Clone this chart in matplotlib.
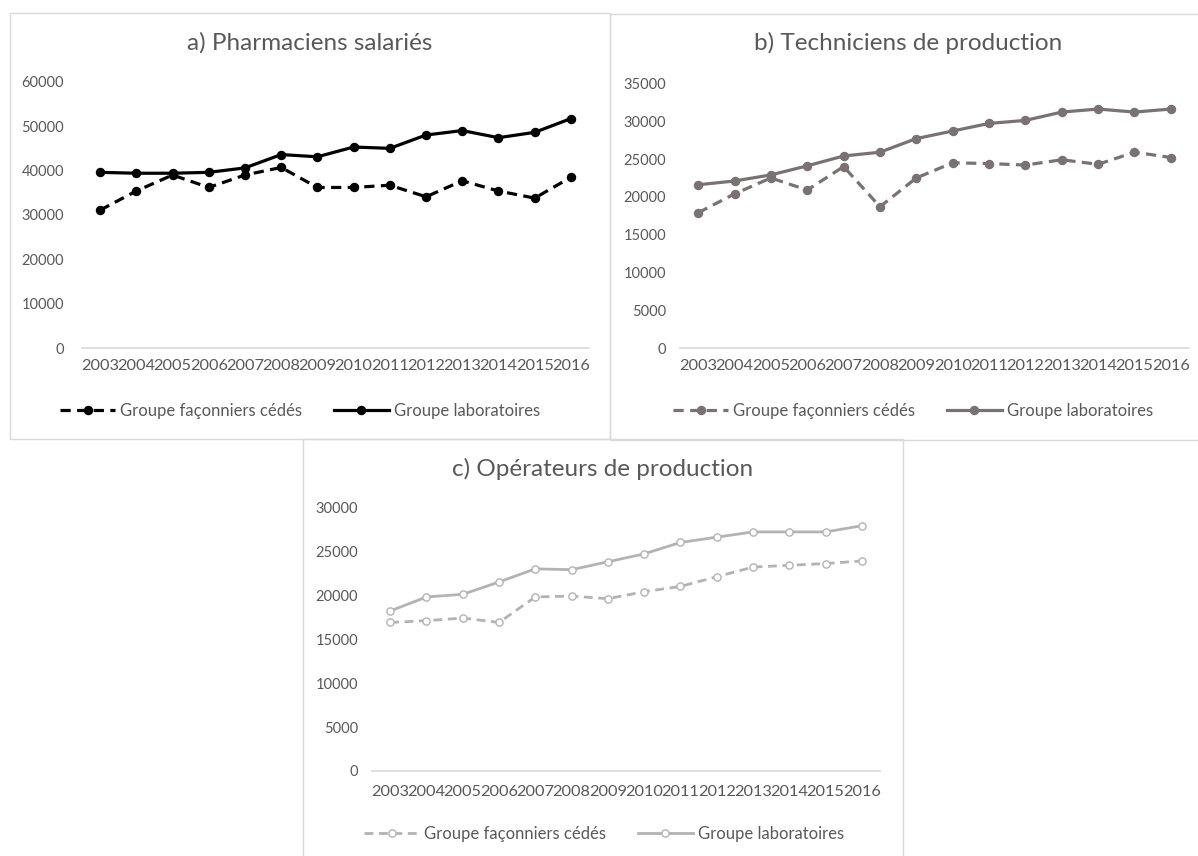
import matplotlib
matplotlib.use("Agg")
import matplotlib.pyplot as plt
from matplotlib.patches import Rectangle
from matplotlib.lines import Line2D

plt.rcParams['font.family'] = ['Lato', 'DejaVu Sans']

years = [2003, 2004, 2005, 2006, 2007, 2008, 2009, 2010, 2011, 2012, 2013, 2014, 2015, 2016]
year_labels = [str(y) for y in years]

series_names = ["Groupe façonniers cédés", "Groupe laboratoires"]

titles = ["a) Pharmaciens salariés", "b) Techniciens de production", "c) Opérateurs de production"]

fac_a = [31100, 35400, 39000, 36200, 39000, 40700, 36200, 36200, 36700, 34100, 37700, 35400, 33800, 38500]
lab_a = [39600, 39400, 39400, 39600, 40600, 43600, 43100, 45300, 45000, 48000, 49000, 47400, 48600, 51700]

fac_b = [17900, 20400, 22500, 20900, 24000, 18700, 22500, 24500, 24400, 24200, 24900, 24300, 25900, 25200]
lab_b = [21600, 22100, 22900, 24100, 25400, 25900, 27700, 28700, 29700, 30100, 31200, 31600, 31200, 31600]

fac_c = [16900, 17100, 17400, 16900, 19800, 19900, 19600, 20400, 21000, 22100, 23200, 23400, 23600, 23900]
lab_c = [18200, 19800, 20100, 21500, 23000, 22900, 23800, 24700, 26000, 26600, 27200, 27200, 27200, 27900]

y_max = [60000, 35000, 30000]
y_step = [10000, 5000, 5000]

W, H = 1198, 856
fig = plt.figure(figsize=(W / 100, H / 100), dpi=100)


def px_axes(left, right, top, bottom):
    return fig.add_axes([left / W, 1 - bottom / H, (right - left) / W, (bottom - top) / H])


def box(x0, y0, x1, y1):
    fig.patches.append(Rectangle((x0 / W, 1 - y1 / H), (x1 - x0) / W, (y1 - y0) / H,
                                 transform=fig.transFigure, fill=False,
                                 edgecolor="#d9d9d9", linewidth=1.0, zorder=0))


TXT = "#595959"

panels = [
    dict(ax=(82, 589, 81.7, 348.3), fac=fac_a, lab=lab_a, color="#000000", hollow=False,
         title=(310, 43), legend=(300, 411), ypad=13, xpad=8),
    dict(ax=(680, 1189, 83.3, 348.3), fac=fac_b, lab=lab_b, color="#7a7272", hollow=False,
         title=(908, 43), legend=(913, 411), ypad=10, xpad=8),
    dict(ax=(372, 880, 507.3, 771.0), fac=fac_c, lab=lab_c, color="#b3b3b3", hollow=True,
         title=(603, 469), legend=(604, 834), ypad=10, xpad=10),
]

box(10, 12.7, 610, 439.3)
box(610, 14, 1200, 439.5)
box(303.3, 439.3, 903.3, 860)

for i, p in enumerate(panels):
    l, r, t, b = p["ax"]
    ax = px_axes(l, r, t, b)
    c = p["color"]
    mfc = "white" if p["hollow"] else c
    ms = 5.2 if p["hollow"] else 5.8
    lw = 2.0 if p["hollow"] else 2.3
    ax.plot(years, p["fac"], color=c, lw=lw, linestyle=(0, (3.2, 2.0)), marker="o",
            markersize=ms, markerfacecolor=mfc, markeredgecolor=c, markeredgewidth=1.0,
            label=series_names[0], clip_on=False, zorder=3)
    ax.plot(years, p["lab"], color=c, lw=lw, linestyle="-", marker="o",
            markersize=ms, markerfacecolor=mfc, markeredgecolor=c, markeredgewidth=1.0,
            label=series_names[1], clip_on=False, zorder=4)
    ax.set_xlim(years[0] - 0.5, years[-1] + 0.5)
    ax.set_ylim(0, y_max[i])
    ax.set_xticks(years)
    ax.set_xticklabels(year_labels)
    ax.set_yticks(list(range(0, y_max[i] + 1, y_step[i])))
    for s in ax.spines.values():
        s.set_visible(False)
    ax.axhline(0, color="#d9d9d9", lw=1.2, zorder=1, clip_on=False)
    ax.tick_params(axis="both", length=0, labelcolor=TXT)
    ax.tick_params(axis="y", pad=p["ypad"], labelsize=10.5)
    ax.tick_params(axis="x", pad=p["xpad"], labelsize=11.8)
    ax.patch.set_visible(False)

    tx, ty = p["title"]
    fig.text(tx / W, 1 - ty / H, titles[i], ha="center", va="center",
             fontsize=17.5, color=TXT)

    handles = [
        Line2D([], [], color=c, lw=lw, linestyle=(0, (3.2, 2.0)), marker="o",
               markersize=ms, markerfacecolor=mfc, markeredgecolor=c),
        Line2D([], [], color=c, lw=lw, linestyle="-", marker="o",
               markersize=ms, markerfacecolor=mfc, markeredgecolor=c),
    ]
    lx, ly = p["legend"]
    fig.legend(handles, series_names, loc="center", bbox_to_anchor=(lx / W, 1 - ly / H),
               ncol=2, frameon=False, fontsize=12, labelcolor=TXT,
               handlelength=3.3, handletextpad=0.3, columnspacing=1.9,
               borderpad=0, borderaxespad=0)

fig.savefig("out.png", dpi=100, facecolor="white")
